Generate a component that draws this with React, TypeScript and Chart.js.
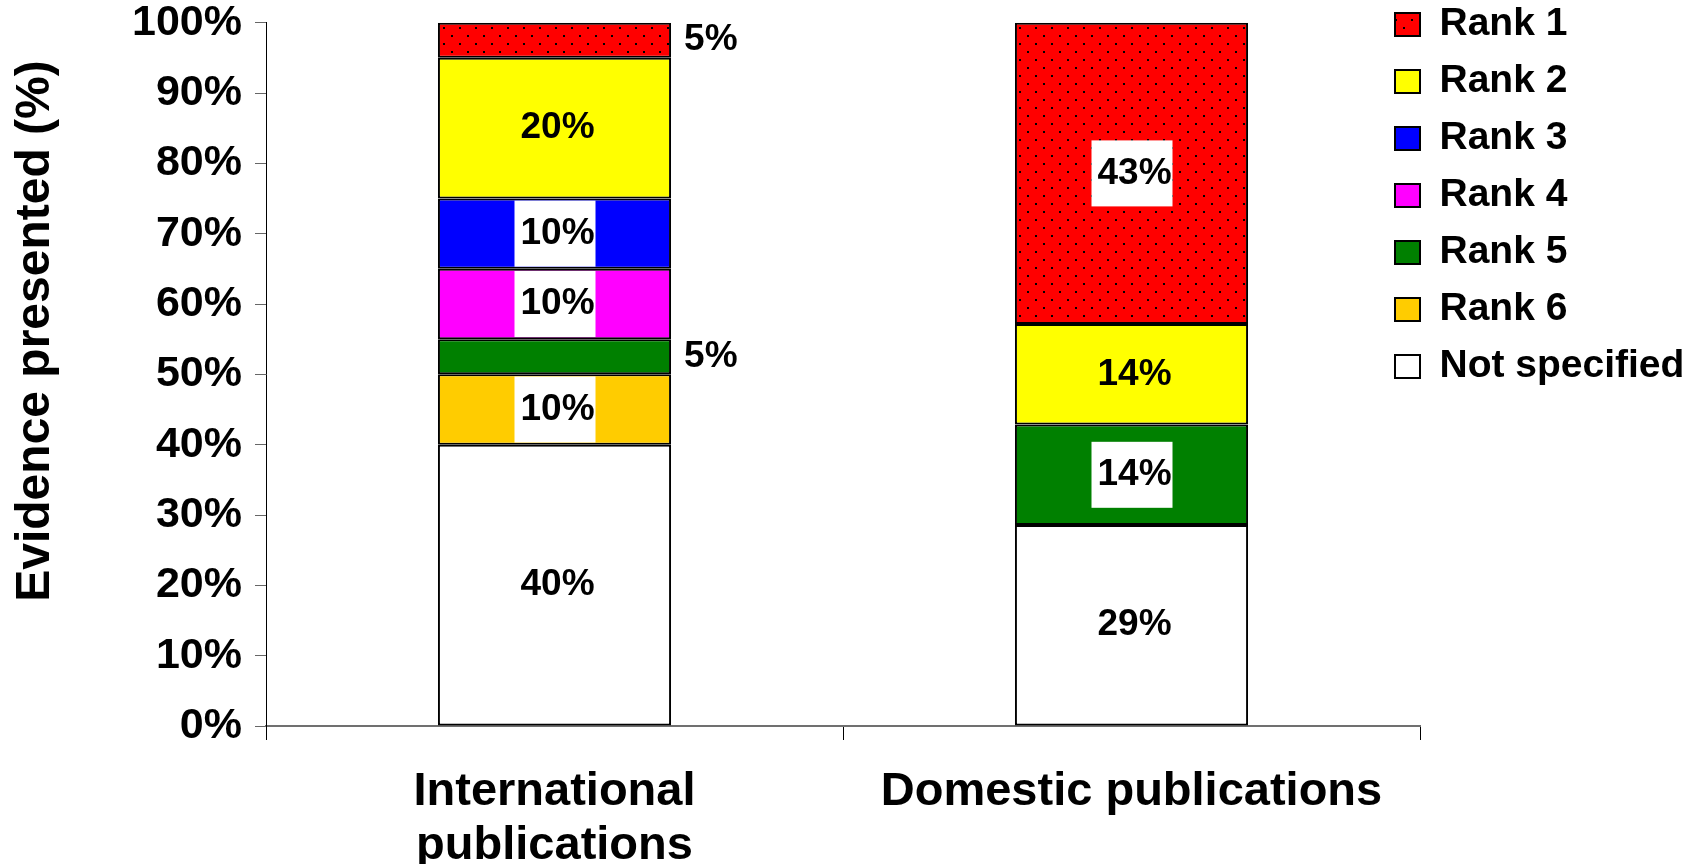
import React, { useEffect, useRef } from "react";
import { Chart, registerables } from "chart.js";

Chart.register(...registerables);

// ---- data ----
const categories: (string | string[])[] = [["International", "publications"], "Domestic publications"];
const seriesNames = ["Not specified", "Rank 6", "Rank 5", "Rank 4", "Rank 3", "Rank 2", "Rank 1"];
const notSpecified = [40, 28.57];
const rank6 = [10, 0];
const rank5 = [5, 14.29];
const rank4 = [10, 0];
const rank3 = [10, 0];
const rank2 = [20, 14.28];
const rank1 = [5, 42.86];
const seriesValues = [notSpecified, rank6, rank5, rank4, rank3, rank2, rank1];
const yTickStep = 10;
const yMax = 100;
const yTitle = "Evidence presented (%)";

// ---- styles ----
const seriesColors = ["#FFFFFF", "#FFCC00", "#008000", "#FF00FF", "#0000FF", "#FFFF00", "dots"];
const labelBoxed = [false, true, true, true, true, false, true];
const FONT = 'Arial, "Liberation Sans", Helvetica, sans-serif';

function makeDots(ctx: CanvasRenderingContext2D): CanvasPattern | string {
  const c = document.createElement("canvas");
  c.width = 16;
  c.height = 16;
  const g = c.getContext("2d");
  if (!g) return "#FF0000";
  g.fillStyle = "#FF0000";
  g.fillRect(0, 0, 16, 16);
  g.fillStyle = "#000000";
  g.fillRect(3, 3, 2, 2);
  g.fillRect(11, 11, 2, 2);
  return ctx.createPattern(c, "repeat") || "#FF0000";
}

const dataLabelPlugin = {
  id: "dataLabels",
  afterDatasetsDraw(chart: any) {
    const ctx = chart.ctx;
    ctx.save();
    ctx.font = `bold 37px ${FONT}`;
    ctx.textBaseline = "middle";
    chart.data.datasets.forEach((ds: any, di: number) => {
      const meta = chart.getDatasetMeta(di);
      meta.data.forEach((el: any, i: number) => {
        const v = ds.data[i];
        if (!v) return;
        const text = Math.round(v) + "%";
        const cy = (el.y + el.base) / 2;
        if (v < 6) {
          ctx.textAlign = "left";
          ctx.fillStyle = "#000";
          ctx.fillText(text, el.x + el.width / 2 + 13, cy);
        } else {
          if (labelBoxed[di]) {
            ctx.fillStyle = "#FFFFFF";
            ctx.fillRect(el.x - 40, cy - 33, 81, 66);
          }
          ctx.textAlign = "center";
          ctx.fillStyle = "#000";
          ctx.fillText(text, el.x + 3, cy);
        }
      });
    });
    ctx.restore();
  },
};

const yTitlePlugin = {
  id: "yTitle",
  afterDraw(chart: any) {
    const ctx = chart.ctx;
    ctx.save();
    ctx.translate(36, 331);
    ctx.rotate(-Math.PI / 2);
    ctx.font = `bold 48px ${FONT}`;
    ctx.fillStyle = "#000";
    ctx.textAlign = "center";
    ctx.textBaseline = "middle";
    ctx.fillText(yTitle, 0, 0);
    ctx.restore();
  },
};

const legendNudgePlugin = {
  id: "legendNudge",
  afterLayout(chart: any) {
    const lg = chart.legend;
    if (!lg) return;
    lg.left -= 43;
    lg.top -= 13;
    lg.bottom -= 13;
  },
};

export default function App() {
  const ref = useRef<HTMLCanvasElement | null>(null);

  useEffect(() => {
    document.body.style.margin = "0";
    const canvas = ref.current;
    if (!canvas) return;
    const ctx = canvas.getContext("2d");
    if (!ctx) return;
    const dots = makeDots(ctx);

    const datasets = seriesNames.map((name, i) => ({
      label: name,
      data: seriesValues[i],
      backgroundColor: seriesColors[i] === "dots" ? dots : seriesColors[i],
      borderColor: "#000000",
      borderWidth: 2,
      borderSkipped: false,
      barPercentage: 0.404,
      categoryPercentage: 1,
    }));

    const chart = new Chart(ctx, {
      type: "bar",
      data: { labels: categories, datasets: datasets as any },
      options: {
        responsive: false,
        animation: false,
        layout: { padding: { top: 0, right: 0, bottom: 0, left: 0 } },
        plugins: {
          tooltip: { enabled: false },
          legend: {
            position: "right",
            align: "start",
            reverse: true,
            maxWidth: 285,
            labels: {
              color: "#000",
              font: { family: FONT, size: 39, weight: "bold" },
              boxWidth: 25,
              boxHeight: 23,
              padding: 18,
            },
          },
        },
        scales: {
          x: {
            stacked: true,
            offset: true,
            afterFit: (s: any) => {
              s.height = 138;
            },
            grid: {
              display: true,
              offset: true,
              drawOnChartArea: false,
              drawTicks: true,
              tickLength: 14,
              color: "#000",
              lineWidth: 1,
            },
            border: { display: true, color: "#707070", width: 2 },
            ticks: {
              color: "#000",
              font: { family: FONT, size: 47, weight: "bold", lineHeight: 1.15 },
              padding: 25,
              maxRotation: 0,
              minRotation: 0,
              autoSkip: false,
            },
          },
          y: {
            stacked: true,
            min: 0,
            max: yMax,
            afterFit: (s: any) => {
              s.width = 266;
            },
            grid: {
              display: true,
              drawOnChartArea: false,
              drawTicks: true,
              tickLength: 11,
              color: "#666",
              lineWidth: 1,
            },
            border: { display: true, color: "#000", width: 1 },
            ticks: {
              stepSize: yTickStep,
              color: "#000",
              padding: 13,
              font: { family: FONT, size: 43, weight: "bold", lineHeight: 0.45 },
              callback: (v: any) => v + "%",
            },
          },
        },
      },
      plugins: [dataLabelPlugin, yTitlePlugin, legendNudgePlugin],
    });

    return () => chart.destroy();
  }, []);

  return (
    <div style={{ width: 1705, height: 864 }}>
      <canvas ref={ref} width={1705} height={864} style={{ display: "block" }} />
    </div>
  );
}
